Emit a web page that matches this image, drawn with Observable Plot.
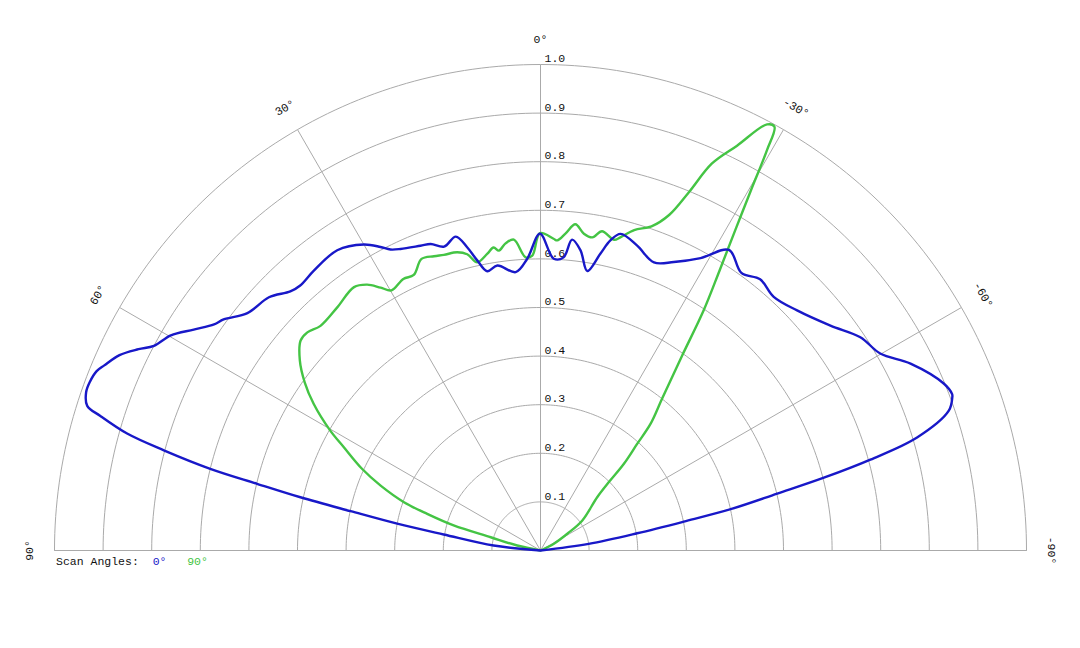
<!DOCTYPE html>
<html>
<head>
<meta charset="utf-8">
<script src="https://cdn.jsdelivr.net/npm/d3@7"></script>
<script src="https://cdn.jsdelivr.net/npm/@observablehq/plot@0.6"></script>
<style>
  html, body { margin: 0; padding: 0; background: #fff; }
  #wrap { position: relative; width: 1080px; height: 648px; }
  #legend { position: absolute; left: 56px; top: 555px; font: 11.5px "Liberation Mono", "Courier New", monospace; white-space: pre; color: #111; }
</style>
</head>
<body>
<div id="wrap">
  <div id="chart"></div>
  <div id="legend"></div>
</div>
<script>
// ---- data (angle in degrees, positive = left of 0°; value = relative intensity) ----
const seriesNames = ["0°", "90°"];
const seriesColors = ["#1818c8", "#44c444"];

const blueAngles = [90, 83.9, 80.6, 79.4, 78.3, 77.5, 76.75, 76.1, 75.1, 74.2, 73.0, 72.3, 70.8, 69.5, 68.0, 67.0, 65.1, 63.4, 62.1, 59.8, 57.5, 55.3, 53.9, 51.0, 47.0, 44.0, 42.2, 39.0, 34.1, 30.0, 27.8, 26.5, 24.9, 21.5, 19.7, 17.6, 15.1, 13.6, 12.3, 10.8, 8.6, 5.1, 2.6, 0.1, -2.6, -4.5, -5.8, -7.6, -9.5, -11.4, -12.7, -14.2, -17.6, -21.5, -24.8, -28.7, -32.1, -35.9, -39.0, -42.6, -46.9, -52.2, -56.3, -59.9, -63.2, -67.5, -69.2, -69.6, -71.1, -73.3, -74.6, -75.6, -76.5, -77.7, -78.6, -79.9, -82.1, -90];
const blueValues = [0, 0.097, 0.202, 0.300, 0.399, 0.506, 0.599, 0.700, 0.802, 0.884, 0.947, 0.979, 0.99, 0.99, 0.985, 0.975, 0.955, 0.925, 0.900, 0.880, 0.846, 0.817, 0.807, 0.776, 0.764, 0.741, 0.736, 0.741, 0.746, 0.727, 0.706, 0.692, 0.684, 0.674, 0.670, 0.656, 0.669, 0.642, 0.611, 0.585, 0.593, 0.575, 0.601, 0.652, 0.601, 0.605, 0.643, 0.623, 0.583, 0.623, 0.654, 0.672, 0.658, 0.637, 0.654, 0.686, 0.730, 0.705, 0.718, 0.709, 0.723, 0.755, 0.791, 0.808, 0.853, 0.898, 0.906, 0.904, 0.888, 0.809, 0.704, 0.602, 0.501, 0.404, 0.301, 0.202, 0.100, 0];

const greenAngles = [90, 77.9, 75.1, 73.9, 72.1, 70.5, 67.9, 65.4, 62.3, 60.3, 57.1, 54.5, 51.7, 48.8, 46.9, 44.4, 39.9, 35.3, 33.1, 31.3, 29.8, 26.8, 24.7, 22.2, 19.9, 18.1, 15.6, 13.9, 12.4, 10.2, 8.8, 7.9, 6.5, 4.9, 2.9, 1.6, 0.1, -2.4, -3.1, -4.5, -6.1, -7.8, -9.4, -10.9, -13.3, -14.3, -16.3, -18.9, -21.0, -22.5, -23.9, -25.9, -28.0, -28.9, -29.5, -30.3, -31.3, -32.6, -34.2, -36.0, -38.7, -41.0, -42.2, -43.9, -45.0, -46.8, -54.3, -58.0, -63.0, -90];
const greenValues = [0, 0.049, 0.106, 0.186, 0.245, 0.298, 0.355, 0.404, 0.457, 0.498, 0.556, 0.596, 0.631, 0.656, 0.657, 0.647, 0.652, 0.664, 0.653, 0.633, 0.617, 0.626, 0.624, 0.648, 0.644, 0.640, 0.637, 0.628, 0.607, 0.620, 0.631, 0.623, 0.636, 0.642, 0.604, 0.607, 0.653, 0.642, 0.639, 0.654, 0.675, 0.658, 0.653, 0.669, 0.657, 0.665, 0.687, 0.705, 0.740, 0.798, 0.871, 0.926, 0.993, 0.996, 0.946, 0.858, 0.771, 0.684, 0.597, 0.496, 0.400, 0.345, 0.296, 0.247, 0.199, 0.160, 0.106, 0.065, 0.031, 0];

const ringTicks = [0.1, 0.2, 0.3, 0.4, 0.5, 0.6, 0.7, 0.8, 0.9, 1.0];
const ringLabels = ["0.1", "0.2", "0.3", "0.4", "0.5", "0.6", "0.7", "0.8", "0.9", "1.0"];
const angleTicks = [90, 60, 30, 0, -30, -60, -90];
const angleLabels = ["90°", "60°", "30°", "0°", "-30°", "-60°", "-90°"];

// ---- polar -> cartesian in data space ----
const rad = d => d * Math.PI / 180;
const px = (a, r) => -r * Math.sin(rad(a));
const py = (a, r) => r * Math.cos(rad(a));

const blue = blueAngles.map((a, i) => ({a, r: blueValues[i], s: seriesNames[0]}));
const green = greenAngles.map((a, i) => ({a, r: greenValues[i], s: seriesNames[1]}));

const arcSteps = d3.range(-90, 90.01, 1);
const rings = ringTicks.flatMap(r => arcSteps.map(a => ({r, a})));
const spokes = angleTicks.map(a => ({a}));
const ringText = ringTicks.map((r, i) => ({r, t: ringLabels[i]}));
const angText = angleTicks.map((a, i) => ({a, t: angleLabels[i]}));

const rMax = 1.0;
const labelR = 1.052;
const font = '"Liberation Mono", "Courier New", monospace';

const chart = Plot.plot({
  width: 1080,
  height: 648,
  margin: 0,
  x: {domain: [-540 / 486, 540 / 486], axis: null},
  y: {domain: [(550 - 648) / 486, 550 / 486], axis: null},
  style: {fontFamily: font, fontSize: "11.5px", background: "#fff"},
  marks: [
    Plot.line(rings, {x: d => px(d.a, d.r), y: d => py(d.a, d.r), z: "r", stroke: "#aaaaaa", strokeWidth: 1}),
    Plot.link(spokes, {x1: 0, y1: 0, x2: d => px(d.a, rMax), y2: d => py(d.a, rMax), stroke: "#aaaaaa", strokeWidth: 1}),
    Plot.text(ringText, {x: 0, y: d => d.r, text: "t", textAnchor: "start", dx: 4, dy: -6, fill: "#111"}),
    Plot.text(angText, {x: d => px(d.a, labelR), y: d => py(d.a, labelR), text: "t", rotate: d => -d.a, fill: "#111"}),
    Plot.line(green, {x: d => px(d.a, d.r), y: d => py(d.a, d.r), stroke: seriesColors[1], strokeWidth: 2.4, strokeLinejoin: "round", curve: "catmull-rom"}),
    Plot.line(blue, {x: d => px(d.a, d.r), y: d => py(d.a, d.r), stroke: seriesColors[0], strokeWidth: 2.4, strokeLinejoin: "round", curve: "catmull-rom"})
  ]
});
document.getElementById("chart").appendChild(chart);

const legend = document.getElementById("legend");
legend.innerHTML = 'Scan Angles:  <span style="color:' + seriesColors[0] + '">' + seriesNames[0] +
  '</span>   <span style="color:' + seriesColors[1] + '">' + seriesNames[1] + '</span>';
</script>
</body>
</html>
